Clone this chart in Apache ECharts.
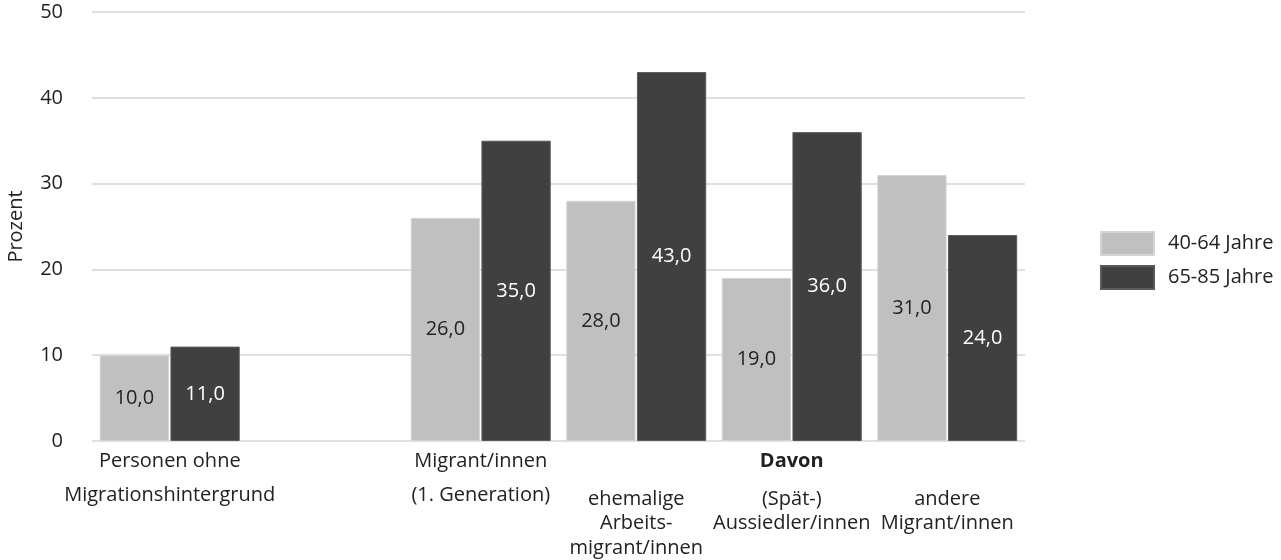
<!DOCTYPE html>
<html>
<head>
<meta charset="utf-8">
<script src="https://cdn.jsdelivr.net/npm/echarts@6/dist/echarts.min.js"></script>
<style>
  html, body { margin: 0; padding: 0; background: #ffffff; }
  #chart { width: 1281px; height: 560px; }
</style>
</head>
<body>
<div id="chart"></div>
<script>
// ---- data ----
const categories = [
  'Personen ohne\nMigrationshintergrund',
  '',
  'Migrant/innen\n(1. Generation)',
  'ehemalige\nArbeits-\nmigrant/innen',
  '(Spät-)\nAussiedler/innen',
  'andere\nMigrant/innen'
];
const subgroupHeader = ['', '', '', '', 'Davon', ''];
const subgroupStart = 3;
const seriesNames = ['40-64 Jahre', '65-85 Jahre'];
const values4064 = [10, null, 26, 28, 19, 31];
const values6585 = [11, null, 35, 43, 36, 24];
const yTicks = [0, 10, 20, 30, 40, 50];

// ---- style ----
const FONT = 'Open Sans';
const TXT = '#222222';
const FS = 20;

function fmtVal(v) { return Number(v).toFixed(1).replace('.', ','); }

function catLabel(value, index) {
  const lines = String(value).split('\n').filter(s => s.length);
  if (!lines.length) return '';
  if (index < subgroupStart) {
    return lines.map(l => '{p|' + l + '}').join('\n');
  }
  const head = subgroupHeader[index] ? '{d|' + subgroupHeader[index] + '}' : '{d| }';
  return [head, '{g| }'].concat(lines.map(l => '{n|' + l + '}')).join('\n');
}

const chart = echarts.init(document.getElementById('chart'), null, { renderer: 'canvas' });
chart.setOption({
  animation: false,
  backgroundColor: '#ffffff',
  textStyle: { fontFamily: FONT, color: TXT },
  grid: { left: 92, right: 256, top: 12, bottom: 119, outerBoundsMode: 'none', containLabel: false },
  legend: {
    orient: 'vertical',
    left: 1100,
    top: 231,
    padding: 0,
    itemWidth: 53,
    itemHeight: 23,
    itemGap: 9,
    icon: 'rect',
    data: seriesNames,
    textStyle: { fontFamily: FONT, fontSize: FS, color: TXT, padding: [0, 0, 0, 9] }
  },
  xAxis: {
    type: 'category',
    data: categories,
    axisLine: { show: false },
    axisTick: { show: false },
    axisLabel: {
      interval: 0,
      hideOverlap: false,
      margin: 3,
      fontFamily: FONT,
      fontSize: FS,
      color: TXT,
      formatter: catLabel,
      rich: {
        p: { fontFamily: FONT, fontSize: FS, color: TXT, lineHeight: 34 },
        d: { fontFamily: FONT, fontSize: FS, color: TXT, fontWeight: 'bold', lineHeight: 34 },
        g: { fontSize: 4, lineHeight: 9 },
        n: { fontFamily: FONT, fontSize: FS, color: TXT, lineHeight: 24.5 }
      }
    }
  },
  yAxis: {
    type: 'value',
    min: yTicks[0],
    max: yTicks[yTicks.length - 1],
    interval: 10,
    name: 'Prozent',
    nameLocation: 'middle',
    nameGap: 66,
    nameTextStyle: { fontFamily: FONT, fontSize: FS, color: TXT },
    axisLine: { show: false },
    axisTick: { show: false },
    axisLabel: { margin: 29, fontFamily: FONT, fontSize: FS, color: TXT },
    splitLine: { lineStyle: { color: '#e0e0e0', width: 2 } }
  },
  series: [
    {
      name: seriesNames[0],
      type: 'bar',
      data: values4064,
      barGap: '2%',
      barCategoryGap: '10%',
      itemStyle: { color: '#c0c0c0', borderColor: '#d4d4d4', borderWidth: 1 },
      label: {
        show: true, position: 'inside', fontFamily: FONT, fontSize: FS, color: TXT,
        formatter: p => fmtVal(p.value)
      }
    },
    {
      name: seriesNames[1],
      type: 'bar',
      data: values6585,
      barGap: '2%',
      barCategoryGap: '10%',
      itemStyle: { color: '#404040', borderColor: '#5a5a5a', borderWidth: 1 },
      label: {
        show: true, position: 'inside', fontFamily: FONT, fontSize: FS, color: '#ffffff',
        formatter: p => fmtVal(p.value)
      }
    }
  ]
});
</script>
</body>
</html>
